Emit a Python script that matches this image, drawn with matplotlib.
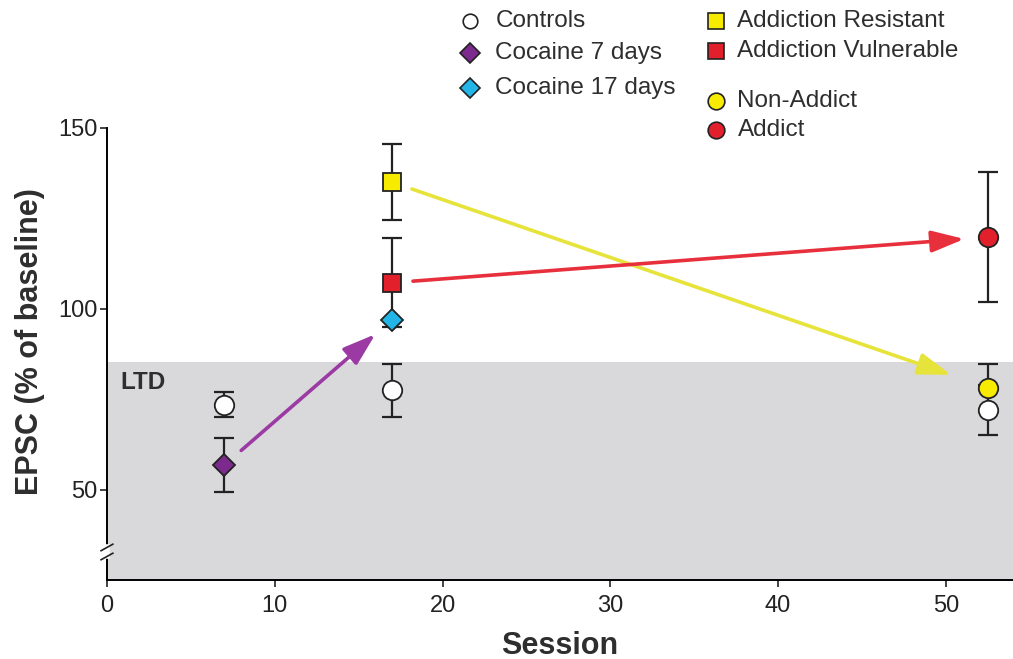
import matplotlib
matplotlib.use('Agg')
import matplotlib.pyplot as plt
from matplotlib.lines import Line2D

plt.rcParams['font.family'] = ['Liberation Sans', 'DejaVu Sans']

# data (session, EPSC % of baseline, error)
ctrl_x = [7, 17, 52.5]
ctrl_y = [73.5, 77.5, 72.0]
ctrl_err = [3.5, 7.3, 7.0]

coc7_x, coc7_y, coc7_err = 7, 56.8, 7.6
coc17_x, coc17_y = 17, 97.0

resist_x, resist_y, resist_err = 17, 135.0, 10.5
vuln_x, vuln_y, vuln_err = 17, 107.2, 12.3

nonadd_x, nonadd_y, nonadd_err = 52.5, 78.2, 6.6
addict_x, addict_y, addict_err = 52.5, 119.8, 18.0

ltd_top = 85.3

x_ticks = [0, 10, 20, 30, 40, 50]
y_ticks = [50, 100, 150]

YELLOW = '#f7ec00'
RED = '#e2202b'
PURPLE = '#7c2a8e'
CYAN = '#22b6e8'
TXT = '#2e2e2e'

fig = plt.figure(figsize=(10.13, 6.59), dpi=100)
ax = fig.add_axes([0.1056, 0.1199, 0.8944, 0.6859])
ax.set_xlim(0, 54)
ax.set_ylim(25, 150)

# LTD band
ax.axhspan(25, ltd_top, color='#d9d9dc', zorder=0, lw=0)
ax.text(0.8, 79.5, 'LTD', fontsize=17.5, fontweight='bold', color=TXT, va='center')

eb = dict(fmt='none', ecolor='#222222', elinewidth=1.6, capsize=7.5, capthick=1.6, zorder=3)
ax.errorbar(ctrl_x, ctrl_y, yerr=ctrl_err, **eb)
ax.errorbar([coc7_x], [coc7_y], yerr=[coc7_err], **eb)
ax.errorbar([resist_x], [resist_y], yerr=[resist_err], **eb)
ax.errorbar([vuln_x], [vuln_y], yerr=[vuln_err], **eb)
ax.errorbar([nonadd_x], [nonadd_y], yerr=[nonadd_err], **eb)
ax.errorbar([addict_x], [addict_y], yerr=[addict_err], **eb)

mk = dict(markeredgecolor='#222222', markeredgewidth=1.3, linestyle='none', zorder=5)
ax.plot(ctrl_x, ctrl_y, 'o', markersize=14, markerfacecolor='white', **mk)
ax.plot([nonadd_x], [nonadd_y], 'o', markersize=14, markerfacecolor=YELLOW, **mk)
ax.plot([addict_x], [addict_y], 'o', markersize=14, markerfacecolor=RED, **mk)
ax.plot([resist_x], [resist_y], 's', markersize=13, markerfacecolor=YELLOW, **mk)
ax.plot([vuln_x], [vuln_y], 's', markersize=13, markerfacecolor=RED, **mk)
ax.plot([coc7_x], [coc7_y], 'D', markersize=11, markerfacecolor=PURPLE, **mk)
ax.plot([coc17_x], [coc17_y], 'D', markersize=11, markerfacecolor=CYAN, **mk)

# arrows between groups
def arrow(x0, y0, x1, y1, color, sa, sb):
    ax.annotate('', xy=(x1, y1), xytext=(x0, y0),
                arrowprops=dict(arrowstyle='-|>,head_length=1.0,head_width=0.33',
                                color=color, lw=2.6, shrinkA=sa, shrinkB=sb,
                                mutation_scale=20),
                zorder=4)

arrow(coc7_x, coc7_y, coc17_x, coc17_y, '#9b3aa3', 16, 16)
arrow(resist_x, resist_y, nonadd_x, nonadd_y, '#e6e33a', 15, 28)
arrow(vuln_x, vuln_y, addict_x, addict_y, '#e8303c', 15, 17)

# axes styling
for s in ['top', 'right']:
    ax.spines[s].set_visible(False)
ax.spines['left'].set_linewidth(1.4)
ax.spines['bottom'].set_linewidth(1.4)
ax.set_xticks(x_ticks)
ax.set_yticks(y_ticks)
ax.tick_params(direction='out', length=5, width=1.2, labelsize=17, colors='#222222')
ax.tick_params(axis='x', pad=6)
ax.tick_params(axis='y', pad=2)
ax.set_xlabel('Session', fontsize=22, fontweight='bold', color=TXT)
ax.set_ylabel('EPSC (% of baseline)', fontsize=22, fontweight='bold', color=TXT)
ax.xaxis.set_label_coords(0.5, -0.112)
ax.yaxis.set_label_coords(-0.068, 0.527)

# axis break on y
d = 0.9
ax.plot([0, 0], [31.5, 34.0], color='white', lw=4, clip_on=False, zorder=6)
for yb in [31.5, 34.0]:
    ax.plot([-0.35, 0.35], [yb - d, yb + d], color='#222222', lw=1.2, clip_on=False, zorder=7)

# legend placed in figure space
entries = [
    (0.464, 0.489, 0.968, 'Controls', 'o', 'white', 10.5),
    (0.464, 0.489, 0.919, 'Cocaine 7 days', 'D', PURPLE, 10),
    (0.464, 0.489, 0.867, 'Cocaine 17 days', 'D', CYAN, 10),
    (0.707, 0.728, 0.968, 'Addiction Resistant', 's', YELLOW, 11.5),
    (0.707, 0.728, 0.923, 'Addiction Vulnerable', 's', RED, 11.5),
    (0.707, 0.728, 0.846, 'Non-Addict', 'o', YELLOW, 12),
    (0.707, 0.728, 0.802, 'Addict', 'o', RED, 12),
]
for mx, tx, ty, label, marker, color, size in entries:
    fig.add_artist(Line2D([mx], [ty], marker=marker, markersize=size, markerfacecolor=color,
                          markeredgecolor='#222222', markeredgewidth=1.2, linestyle='none',
                          transform=fig.transFigure))
    fig.text(tx, ty, label, fontsize=17.5, color=TXT, va='center', ha='left')

fig.savefig('out.png', dpi=100)
